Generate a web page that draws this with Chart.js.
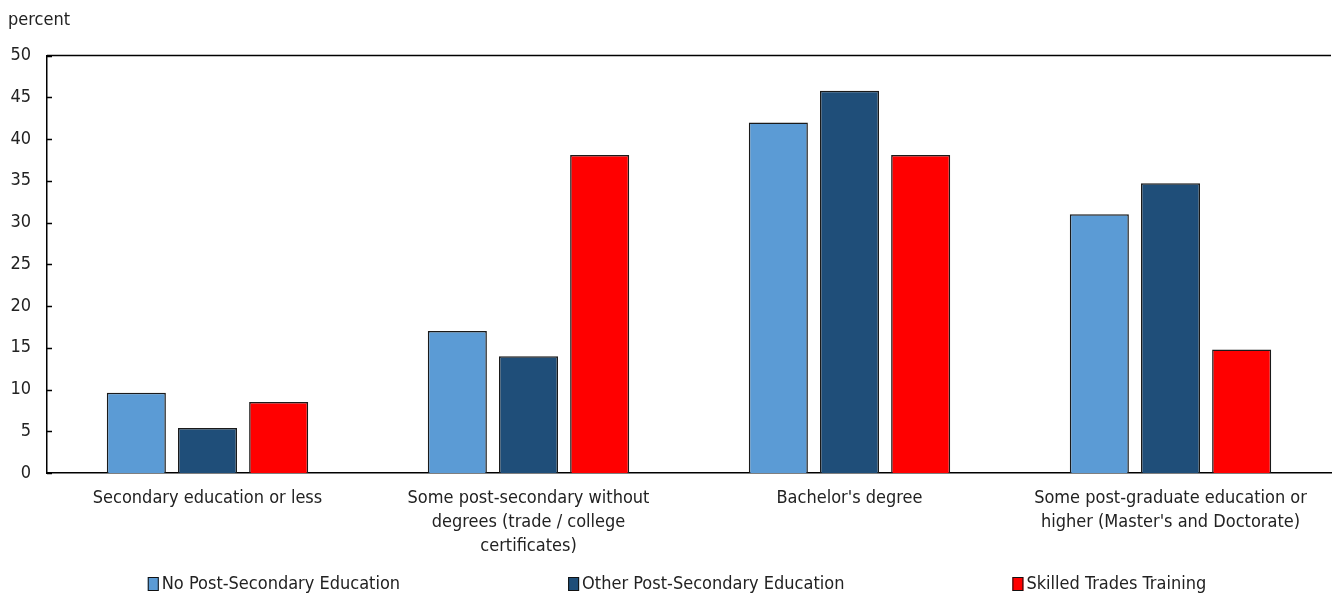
<!DOCTYPE html>
<html>
<head>
<meta charset="utf-8">
<script src="https://cdn.jsdelivr.net/npm/chart.js@4.4.1/dist/chart.umd.min.js"></script>
<style>
  html, body { margin: 0; padding: 0; background: #fff; }
  #wrap { width: 1333px; height: 595px; }
</style>
</head>
<body>
<div id="wrap"><canvas id="chart"></canvas></div>
<script>
// Education level of workers, by type of training (percent)
const categories = [
  'Secondary education or less',
  ['Some post-secondary without', 'degrees (trade / college', 'certificates)'],
  "Bachelor's degree",
  ['Some post-graduate education or', "higher (Master's and Doctorate)"]
];
const noPostSecondary = [9.6, 17.0, 42.0, 31.0];
const otherPostSecondary = [5.4, 14.0, 45.8, 34.7];
const skilledTrades = [8.5, 38.1, 38.1, 14.8];
const yTicks = [0, 5, 10, 15, 20, 25, 30, 35, 40, 45, 50];

const FONT = "'DejaVu Sans Condensed', 'Liberation Sans Narrow', sans-serif";
const FSIZE = 18;
Chart.defaults.font.family = FONT;
Chart.defaults.font.size = FSIZE;
Chart.defaults.color = '#222';

// top frame line + inward tick marks on the y axis
const frame = {
  id: 'frame',
  afterDraw(chart) {
    const { ctx, chartArea } = chart;
    const y = chart.scales.y;
    ctx.save();
    ctx.strokeStyle = '#000';
    ctx.lineWidth = 1.5;
    ctx.beginPath();
    ctx.moveTo(chartArea.left, chartArea.top);
    ctx.lineTo(chartArea.right, chartArea.top);
    y.ticks.forEach(t => {
      const py = Math.round(y.getPixelForValue(t.value)) + 0.5;
      ctx.moveTo(chartArea.left, py);
      ctx.lineTo(chartArea.left + 5, py);
    });
    ctx.stroke();
    ctx.restore();
  }
};

// bottom legend, spread out like the original
const spreadLegend = {
  id: 'spreadLegend',
  afterDraw(chart) {
    const { ctx, height, chartArea } = chart;
    const gap = 168, box = 11, textGap = 3;
    ctx.save();
    ctx.font = FSIZE + 'px ' + FONT;
    const items = chart.data.datasets.map(ds => ({
      ds, w: box + textGap + ctx.measureText(ds.label).width
    }));
    const total = items.reduce((s, it) => s + it.w, 0) + gap * (items.length - 1);
    let x = (chartArea.left + chartArea.right) / 2 - 12 - total / 2;
    const cy = height - 11;
    ctx.textBaseline = 'middle';
    ctx.textAlign = 'left';
    items.forEach(it => {
      ctx.fillStyle = it.ds.backgroundColor;
      ctx.fillRect(x, cy - 7, box, 14);
      ctx.strokeStyle = '#111';
      ctx.lineWidth = 1;
      ctx.strokeRect(x + 0.5, cy - 6.5, box - 1, 13);
      ctx.fillStyle = '#222';
      ctx.fillText(it.ds.label, x + box + textGap, cy);
      x += it.w + gap;
    });
    ctx.restore();
  }
};

const makeSet = (label, data, color) => ({
  label,
  data,
  backgroundColor: color,
  borderColor: '#1a1a1a',
  borderWidth: 1.5,
  categoryPercentage: 0.665,
  barPercentage: 0.83
});

new Chart(document.getElementById('chart'), {
  type: 'bar',
  data: {
    labels: categories,
    datasets: [
      makeSet('No Post-Secondary Education', noPostSecondary, '#5B9BD5'),
      makeSet('Other Post-Secondary Education', otherPostSecondary, '#1F4E79'),
      makeSet('Skilled Trades Training', skilledTrades, '#FF0000')
    ]
  },
  options: {
    responsive: true,
    maintainAspectRatio: false,
    animation: false,
    layout: { padding: { left: 8, right: 2, top: 0, bottom: 38 } },
    scales: {
      x: {
        afterFit: s => { s.height = 84; },
        grid: { display: false, drawTicks: false },
        border: { display: true, color: '#000', width: 1.5 },
        ticks: {
          padding: 13, maxRotation: 0, autoSkip: false, color: '#222',
          font: { size: FSIZE, lineHeight: 1.35 }
        }
      },
      y: {
        min: 0,
        max: 50,
        afterFit: s => { s.width = 39; },
        afterBuildTicks: axis => { axis.ticks = yTicks.map(v => ({ value: v })); },
        grid: { display: false, drawTicks: false },
        border: { display: true, color: '#000', width: 1.5 },
        ticks: { padding: 16, autoSkip: false, color: '#222' }
      }
    },
    plugins: {
      title: {
        display: true,
        text: 'percent',
        align: 'start',
        color: '#222',
        font: { size: FSIZE, weight: 'normal', lineHeight: 1.2 },
        padding: { top: 10, bottom: 24 }
      },
      legend: { display: false },
      tooltip: { enabled: false }
    }
  },
  plugins: [frame, spreadLegend]
});
</script>
</body>
</html>
